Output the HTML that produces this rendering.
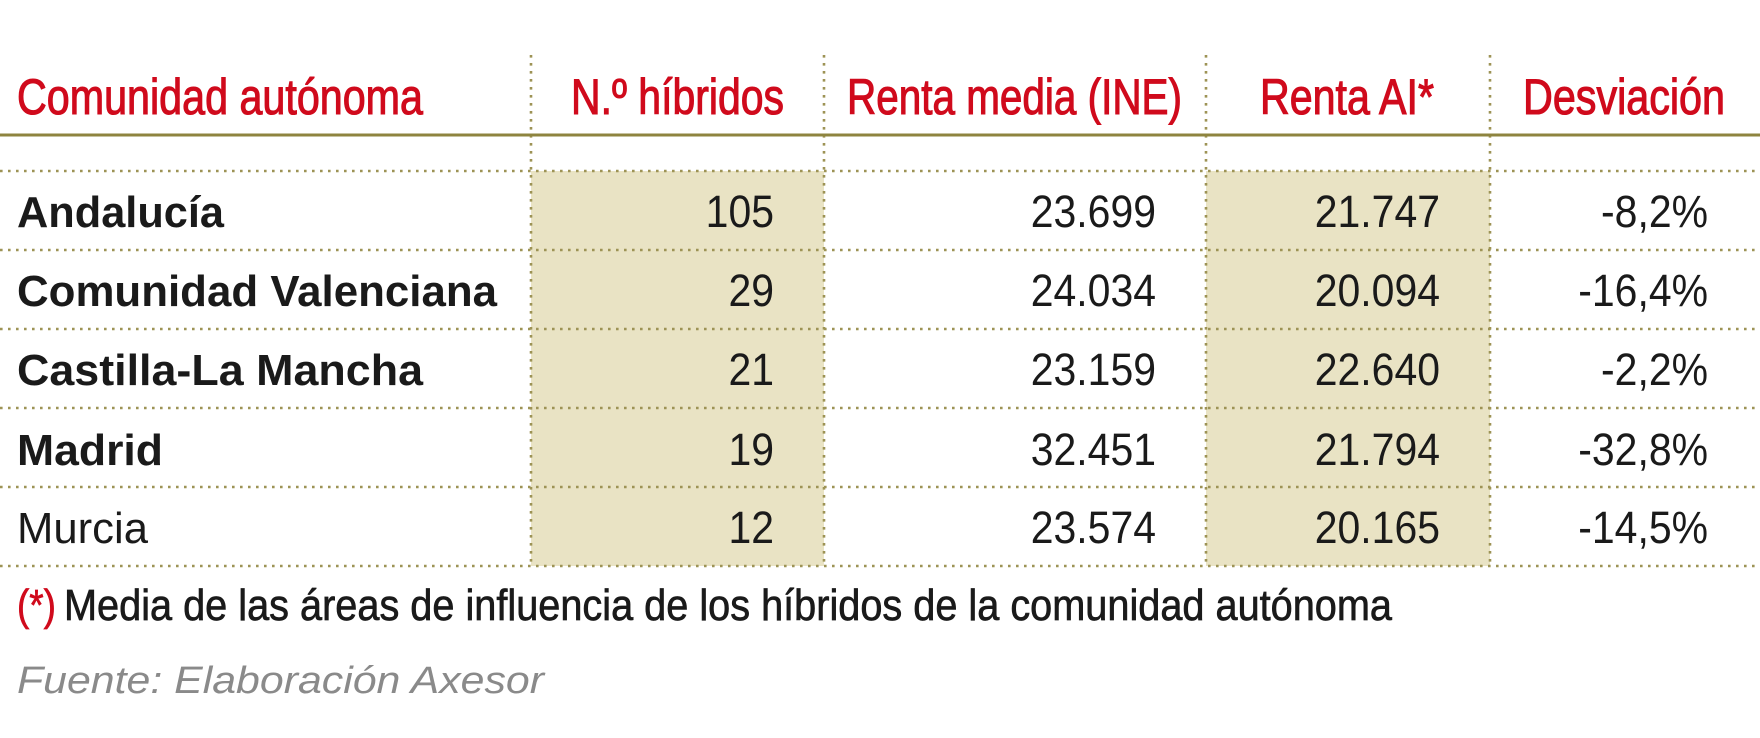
<!DOCTYPE html>
<html><head><meta charset="utf-8"><style>
html,body{margin:0;padding:0;background:#fff;}
svg{display:block;}
</style></head><body>
<svg width="1760" height="738" viewBox="0 0 1760 738" xmlns="http://www.w3.org/2000/svg">
<rect width="1760" height="738" fill="#fff"/>
<rect x="531" y="171" width="293" height="395" fill="#e9e3c4"/>
<rect x="1206" y="171" width="284" height="395" fill="#e9e3c4"/>
<g stroke="#9d9355" stroke-width="2.6" stroke-dasharray="2.6 5.4" fill="none">
<line x1="0" y1="171" x2="1760" y2="171"/>
<line x1="0" y1="250" x2="1760" y2="250"/>
<line x1="0" y1="329" x2="1760" y2="329"/>
<line x1="0" y1="408" x2="1760" y2="408"/>
<line x1="0" y1="487" x2="1760" y2="487"/>
<line x1="0" y1="566" x2="1760" y2="566"/>
<line x1="531" y1="55" x2="531" y2="566"/>
<line x1="824" y1="55" x2="824" y2="566"/>
<line x1="1206" y1="55" x2="1206" y2="566"/>
<line x1="1490" y1="55" x2="1490" y2="566"/>
</g>
<line x1="0" y1="135" x2="1760" y2="135" stroke="#8e843f" stroke-width="3"/>
<g font-family="'Liberation Sans Narrow','Liberation Sans',sans-serif" font-size="50" fill="#d00a1c" stroke="#d00a1c" stroke-width="1.1">
<text x="17" y="114" textLength="406" lengthAdjust="spacingAndGlyphs">Comunidad autónoma</text>
<text x="571" y="114" textLength="213" lengthAdjust="spacingAndGlyphs">N.º híbridos</text>
<text x="847" y="114" textLength="335" lengthAdjust="spacingAndGlyphs">Renta media (INE)</text>
<text x="1260" y="114" textLength="174" lengthAdjust="spacingAndGlyphs">Renta AI*</text>
<text x="1523" y="114" textLength="202" lengthAdjust="spacingAndGlyphs">Desviación</text>
</g>
<g font-family="'Liberation Sans',sans-serif" font-size="44" fill="#1a1a1a" font-weight="bold">
<text x="17" y="227" textLength="207" lengthAdjust="spacingAndGlyphs">Andalucía</text>
<text x="17" y="306" textLength="480" lengthAdjust="spacingAndGlyphs">Comunidad Valenciana</text>
<text x="17" y="385" textLength="406" lengthAdjust="spacingAndGlyphs">Castilla-La Mancha</text>
<text x="17" y="465" textLength="146" lengthAdjust="spacingAndGlyphs">Madrid</text>
<text x="17" y="543" font-weight="normal" textLength="131" lengthAdjust="spacingAndGlyphs">Murcia</text>
</g>
<g font-family="'Liberation Sans',sans-serif" font-size="45" fill="#1a1a1a" text-anchor="end">
<g transform="translate(774,0) scale(0.91,1)"><text x="0" y="227">105</text><text x="0" y="306">29</text><text x="0" y="385">21</text><text x="0" y="465">19</text><text x="0" y="543">12</text></g>
<g transform="translate(1156,0) scale(0.91,1)"><text x="0" y="227">23.699</text><text x="0" y="306">24.034</text><text x="0" y="385">23.159</text><text x="0" y="465">32.451</text><text x="0" y="543">23.574</text></g>
<g transform="translate(1440,0) scale(0.91,1)"><text x="0" y="227">21.747</text><text x="0" y="306">20.094</text><text x="0" y="385">22.640</text><text x="0" y="465">21.794</text><text x="0" y="543">20.165</text></g>
<g transform="translate(1708,0) scale(0.91,1)"><text x="0" y="227">-8,2%</text><text x="0" y="306">-16,4%</text><text x="0" y="385">-2,2%</text><text x="0" y="465">-32,8%</text><text x="0" y="543">-14,5%</text></g>
</g>
<g font-family="'Liberation Sans Narrow','Liberation Sans',sans-serif" font-size="44" stroke-width="0.7">
<text x="17" y="620" fill="#d00a1c" stroke="#d00a1c" textLength="39" lengthAdjust="spacingAndGlyphs">(*)</text>
<text x="64" y="620" fill="#1a1a1a" stroke="#1a1a1a" textLength="1328" lengthAdjust="spacingAndGlyphs">Media de las áreas de influencia de los híbridos de la comunidad autónoma</text>
</g>
<text x="17" y="693" font-family="'Liberation Sans',sans-serif" font-style="italic" font-size="38" fill="#8a8a8a" textLength="527" lengthAdjust="spacingAndGlyphs">Fuente: Elaboración Axesor</text>
</svg>
</body></html>
